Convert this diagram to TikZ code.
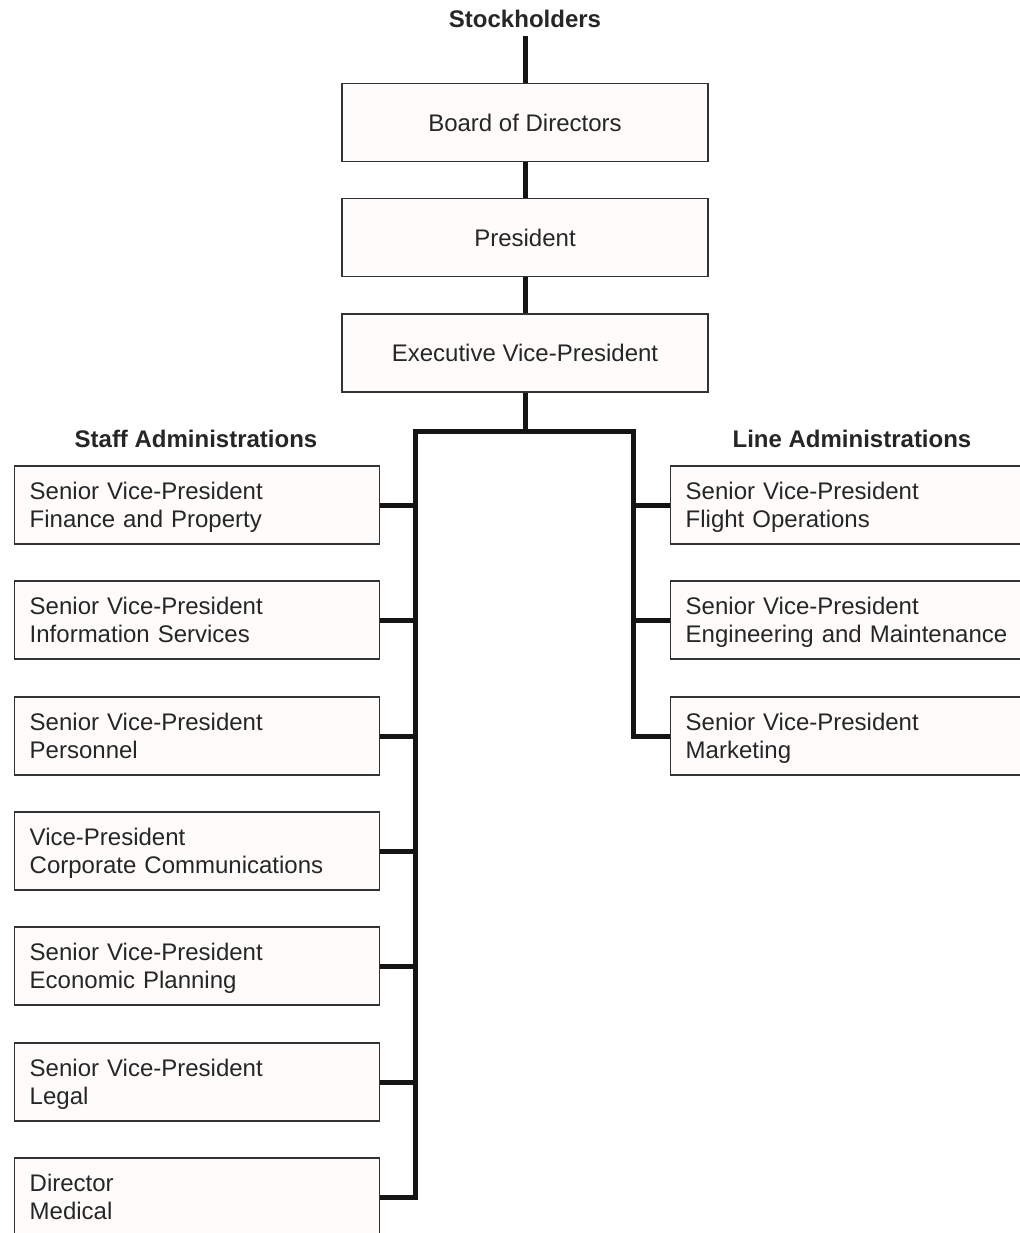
\documentclass[tikz,border=0pt]{standalone}
\usepackage{fontspec}
\setmainfont{Liberation Sans}
\begin{document}
\begin{tikzpicture}[x=0.75pt,y=-0.75pt,
  box/.style={draw=black!80,line width=1.1pt,fill={rgb,255:red,253;green,252;blue,250},
    minimum height=58.5pt,inner sep=0pt,font=\fontsize{18}{21}\selectfont,text=black!85},
  topbox/.style={box,minimum width=274.5pt,align=center},
  sidebox/.style={box,minimum width=273.75pt,text width=251.25pt,inner xsep=11.25pt,
    align=left,anchor=west,
    execute at begin node={\rule{0pt}{17pt}},
    execute at end node={\rule[-3.8pt]{0pt}{3.8pt}}},
  title/.style={font=\fontsize{18}{21}\selectfont\bfseries,text=black!85,inner sep=0pt},
  conn/.style={line width=3.75pt,draw=black!92,line join=miter}]
\clip (0,0) rectangle (1020,1233);
\fill[white] (0,0) rectangle (1020,1233);
% top chain
\node[title] (stock) at (525,19) {Stockholders};
\node[topbox] (board) at (525,122.5) {Board of Directors};
\node[topbox] (pres) at (525,237.5) {President};
\node[topbox] (evp) at (525,353) {Executive Vice-President};
% group titles
\node[title] (staff) at (196,439) {Staff Administrations};
\node[title] (line) at (852,439) {Line Administrations};
% left boxes
\node[sidebox] (L1) at (14,505) {Senior Vice-President\\Finance and Property};
\node[sidebox] (L2) at (14,620) {Senior Vice-President\\Information Services};
\node[sidebox] (L3) at (14,736) {Senior Vice-President\\Personnel};
\node[sidebox] (L4) at (14,851) {Vice-President\\Corporate Communications};
\node[sidebox] (L5) at (14,966) {Senior Vice-President\\Economic Planning};
\node[sidebox] (L6) at (14,1082) {Senior Vice-President\\Legal};
\node[sidebox] (L7) at (14,1197) {Director\\Medical};
% right boxes
\node[sidebox] (R1) at (670,505) {Senior Vice-President\\Flight Operations};
\node[sidebox] (R2) at (670,620) {Senior Vice-President\\Engineering and Maintenance};
\node[sidebox] (R3) at (670,736) {Senior Vice-President\\Marketing};
% junction coordinates
\coordinate (top) at (525,431);
\coordinate (tl) at (415,431);
\coordinate (tr) at (633,431);
% connectors
\draw[conn] (stock.south) ++(0,8) -- (board.north);
\draw[conn] (board.south) -- (pres.north);
\draw[conn] (pres.south) -- (evp.north);
\draw[conn] (evp.south) -- (top);
\draw[conn] (L7.east) -| (tl) -- (tr) |- (R3.west);
\foreach \n in {L1,L2,L3,L4,L5,L6} \draw[conn] (\n.east) -- (\n.east -| tl);
\foreach \n in {R1,R2} \draw[conn] (\n.west) -- (\n.west -| tr);
\end{tikzpicture}
\end{document}
